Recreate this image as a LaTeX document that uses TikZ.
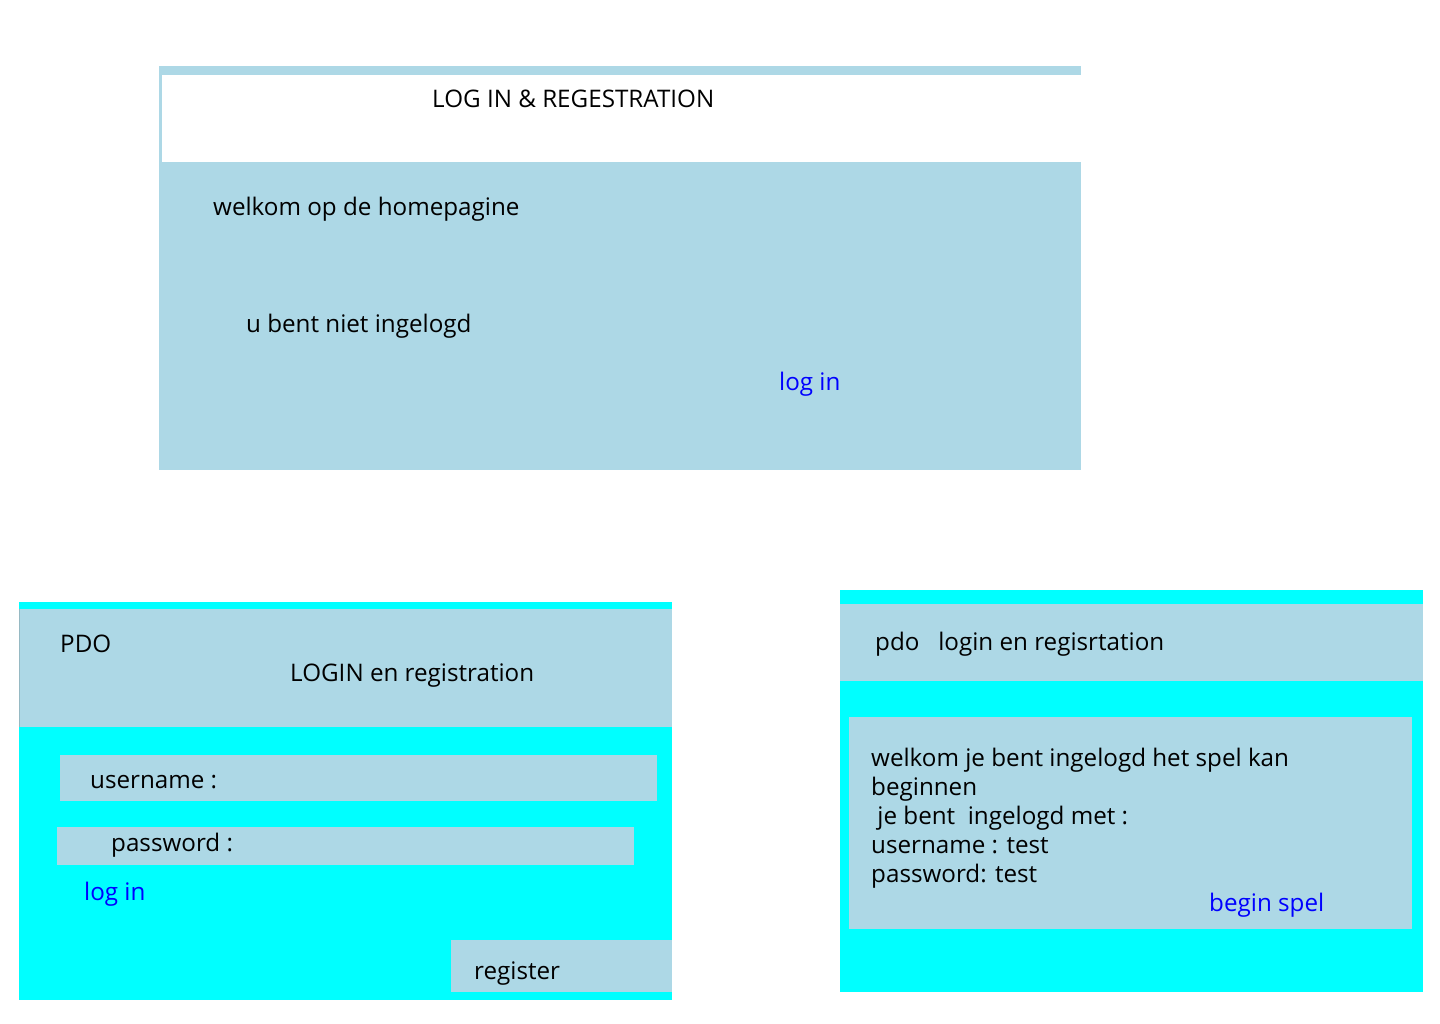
\documentclass[tikz,border=0pt]{standalone}
\usepackage{fontspec}
\setmainfont{Open Sans}
\definecolor{lblue}{RGB}{173,216,230}
\definecolor{aqua}{RGB}{0,255,255}
\definecolor{linkblue}{RGB}{0,0,255}
\definecolor{edgegray}{RGB}{150,185,195}
\begin{document}
\begin{tikzpicture}[x=1pt,y=-1pt,
  txt/.style={anchor=base west,inner sep=0pt,font=\fontsize{24.2}{28}\selectfont,text=black},
  link/.style={txt,text=linkblue}]
\useasboundingbox (0,0) rectangle (1440,1024);
% ---- top screen
\fill[lblue] (159,66) rectangle (1081,470);
\fill[white] (162,75) rectangle (1081,162);
\node[txt] (t1) at (432,108) {LOG IN \& REGESTRATION};
\node[txt] (t2) at (213,216) {welkom op de homepagine};
\node[txt] (t3) at (246,332) {u bent niet ingelogd};
\node[link] (t4) at (779,390) {log in};
% ---- bottom-left screen
\fill[aqua] (19,602) rectangle (672,1000);
\draw[draw=edgegray,line width=0.6pt] (19.3,609) -- (19.3,727);
\fill[lblue] (19.6,609) rectangle (672,727);
\fill[lblue] (60,755) rectangle (657,801);
\fill[lblue] (57,827) rectangle (634,865);
\fill[lblue] (451,940) rectangle (672,992);
\node[txt] (l1) at (60,652) {PDO};
\node[txt] (l2) at (290,681) {LOGIN en registration};
\node[txt] (l3) at (90,788) {username :};
\node[txt] (l4) at (111,851) {password :};
\node[link] (l5) at (84,900) {log in};
\node[txt] (l6) at (474,979) {register};
% ---- bottom-right screen
\fill[aqua] (840,590) rectangle (1423,992);
\fill[lblue] (840,604) rectangle (1423,681);
\fill[lblue] (849,717) rectangle (1412,929);
\node[txt] (r1) at (875,650) {pdo\ \ \ login en regisrtation};
\node[txt] (r2) at (871,766) {welkom je bent ingelogd het spel kan};
\node[txt] (r3) at (871,795) {beginnen};
\node[txt] (r4) at (871,824) {\ je bent\ \ ingelogd met :};
\node[txt] (r5) at (871,853) {username : test};
\node[txt] (r6) at (871,882) {password: test};
\node[link] (r7) at (1209,911) {begin spel};
\end{tikzpicture}
\end{document}
